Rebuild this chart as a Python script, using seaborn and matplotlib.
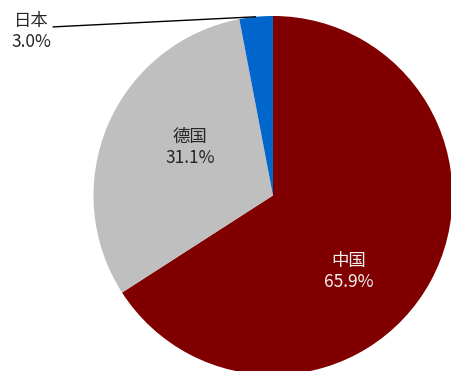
import matplotlib
matplotlib.use("Agg")
import matplotlib.pyplot as plt
import numpy as np
import seaborn as sns

# Share by country
countries = ["中国", "德国", "日本"]
shares = [65.9, 31.1, 3.0]
colors = ["#800000", "#BFBFBF", "#0066CC"]
label_colors = ["#F2F2F2", "#262626", "#262626"]

sns.set_theme(style="white")
plt.rcParams["font.family"] = ["Noto Sans CJK SC", "DejaVu Sans"]

fig = plt.figure(figsize=(4.51, 3.71), dpi=100)
ax = fig.add_axes([0, 0, 1, 1])

wedges, _ = ax.pie(
    shares,
    colors=sns.color_palette(colors),
    startangle=90,
    counterclock=False,
    radius=1.0,
    wedgeprops=dict(linewidth=0),
)

# Label anchors (axes data units, pie radius = 1)
label_pos = {
    "中国": (0.422, -0.425),
    "德国": (-0.461, 0.267),
    "日本": (-1.344, 0.914),
}

for name, val, tc in zip(countries, shares, label_colors):
    x, y = label_pos[name]
    ax.text(x, y, f"{name}\n{val:.1f}%", ha="center", va="center",
            multialignment="center", fontsize=12.5, color=tc, linespacing=1.2)

# Leader line for the small slice
w = wedges[2]
mid = np.deg2rad((w.theta1 + w.theta2) / 2)
ax.plot([-1.228, np.cos(mid)], [0.939, np.sin(mid)], color="black", lw=1.0,
        solid_capstyle="butt")

ax.set_xlim(-1.521, 0.992)
ax.set_ylim(-0.978, 1.089)
ax.set_aspect("auto")
ax.axis("off")

fig.savefig("out.png", dpi=100)
